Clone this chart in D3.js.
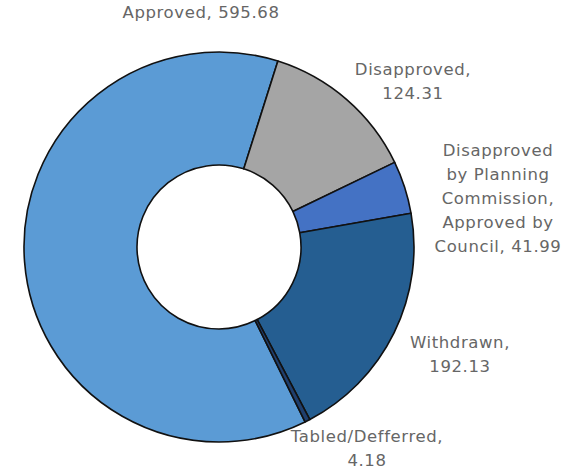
<!DOCTYPE html>
<html>
<head>
<meta charset="utf-8">
<script src="https://cdn.jsdelivr.net/npm/d3@7"></script>
<style>
  html, body { margin: 0; padding: 0; background: #fff; }
  svg { display: block; }
</style>
</head>
<body>
<svg id="chart" width="579" height="472"></svg>
<script>
// ---- data ----
const categories = [
  "Approved",
  "Disapproved",
  "Disapproved by Planning Commission, Approved by Council",
  "Withdrawn",
  "Tabled/Defferred"
];
const values = [595.68, 124.31, 41.99, 192.13, 4.18];
const valueLabels = ["595.68", "124.31", "41.99", "192.13", "4.18"];
const colors = ["#5b9bd5", "#a5a5a5", "#4472c4", "#255e91", "#1f3f6e"];

// label text lines (as in the original) and their layout
const labelLines = [
  ["Approved, 595.68"],
  ["Disapproved,", "124.31"],
  ["Disapproved", "by Planning", "Commission,", "Approved by", "Council, 41.99"],
  ["Withdrawn,", "192.13"],
  ["Tabled/Defferred,", "4.18"]
];
const labelPos = [
  {x: 201, y: 18},
  {x: 413, y: 75},
  {x: 498, y: 156},
  {x: 460, y: 348},
  {x: 367, y: 442}
];

// ---- chart ----
const svg = d3.select("#chart");
const cx = 219, cy = 247, rOuter = 195, rInner = 82;
const deg = Math.PI / 180;
const start = -206.2 * deg;

const pie = d3.pie().sort(null).value(d => d)
  .startAngle(start).endAngle(start + 2 * Math.PI);
const arc = d3.arc().innerRadius(rInner).outerRadius(rOuter);

const g = svg.append("g").attr("transform", `translate(${cx},${cy})`);
g.selectAll("path")
  .data(pie(values))
  .join("path")
  .attr("d", arc)
  .attr("fill", (d, i) => colors[i])
  .attr("stroke", "#111")
  .attr("stroke-width", 1.6)
  .attr("stroke-linejoin", "round");

const lineH = 24;
labelLines.forEach((lines, i) => {
  const t = svg.append("text")
    .attr("x", labelPos[i].x)
    .attr("y", labelPos[i].y)
    .attr("text-anchor", "middle")
    .attr("font-family", "'DejaVu Sans', sans-serif")
    .attr("font-size", 16.5)
    .attr("letter-spacing", 0.6)
    .attr("fill", "#666");
  lines.forEach((ln, j) => {
    t.append("tspan")
      .attr("x", labelPos[i].x)
      .attr("y", labelPos[i].y + j * lineH)
      .text(ln);
  });
});
</script>
</body>
</html>
